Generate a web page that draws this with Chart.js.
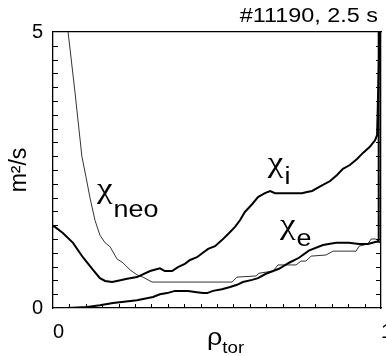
<!DOCTYPE html>
<html>
<head>
<meta charset="utf-8">
<script src="https://cdn.jsdelivr.net/npm/chart.js@4/dist/chart.umd.min.js"></script>
<style>
  html, body { margin: 0; padding: 0; background: #fff; }
</style>
</head>
<body>
<canvas id="chiChart" width="386" height="356"></canvas>
<script>
// chi_i (thick, upper)
var rhoI = [0, 0.006, 0.03, 0.061, 0.091, 0.122, 0.143, 0.159, 0.18, 0.195, 0.226, 0.256, 0.296, 0.326,
  0.341, 0.363, 0.381, 0.402, 0.418, 0.439, 0.457, 0.473, 0.494, 0.515, 0.534, 0.555, 0.570, 0.585,
  0.607, 0.625, 0.646, 0.662, 0.677, 0.707, 0.732, 0.759, 0.774, 0.790, 0.805, 0.823, 0.845, 0.866,
  0.884, 0.905, 0.927, 0.945, 0.966, 0.982, 0.988, 1.0];
var chiI = [1.48, 1.47, 1.36, 1.18, 0.92, 0.69, 0.54, 0.49, 0.47, 0.49, 0.53, 0.56, 0.67, 0.72,
  0.67, 0.67, 0.74, 0.80, 0.87, 0.92, 1.0, 1.07, 1.12, 1.23, 1.34, 1.47, 1.59, 1.74,
  1.88, 2.01, 2.08, 2.12, 2.08, 2.08, 2.08, 2.08, 2.10, 2.12, 2.17, 2.23, 2.30, 2.41,
  2.52, 2.59, 2.70, 2.81, 2.92, 3.04, 3.13, 6.0];

// chi_e (thick, lower)
var rhoE = [0, 0.043, 0.104, 0.143, 0.183, 0.256, 0.305, 0.326, 0.348, 0.372, 0.412, 0.433, 0.457, 0.470,
  0.488, 0.515, 0.540, 0.561, 0.579, 0.607, 0.625, 0.649, 0.689, 0.72, 0.75, 0.78, 0.823, 0.863,
  0.902, 0.933, 0.96, 0.985, 0.991, 0.993];
var chiE = [0, 0, 0.02, 0.05, 0.09, 0.14, 0.20, 0.25, 0.27, 0.31, 0.31, 0.29, 0.27, 0.27,
  0.31, 0.34, 0.38, 0.42, 0.47, 0.51, 0.54, 0.62, 0.71, 0.82, 0.91, 1.04, 1.14, 1.18,
  1.18, 1.16, 1.16, 1.20, 1.20, 8.0];

// chi_neo (thin)
var rhoN = [0.046, 0.067, 0.088, 0.101, 0.113, 0.128, 0.143, 0.159, 0.174, 0.195, 0.213, 0.235, 0.256,
  0.274, 0.302, 0.546, 0.561, 0.619, 0.628, 0.671, 0.686, 0.741, 0.756, 0.771, 0.787, 0.832, 0.854,
  0.924, 0.933, 0.960, 0.970, 0.985, 0.997];
var chiN = [5.0, 3.91, 2.75, 2.36, 1.99, 1.59, 1.32, 1.18, 1.11, 0.89, 0.82, 0.69, 0.60,
  0.56, 0.47, 0.47, 0.56, 0.58, 0.63, 0.67, 0.78, 0.78, 0.85, 0.85, 0.94, 0.96, 1.03,
  1.03, 1.12, 1.16, 1.25, 1.25, 1.18];

var xTickLabels = [0, 1];
var yTickLabels = [0, 5];
var titleText = '#11190, 2.5 s';

var FONT = "'Liberation Sans', Arial, sans-serif";
var CHI_FONT = "'Liberation Serif', 'Times New Roman', serif";
var STRETCH = 1.17; // the original lettering is a bit wide

function toPoints(xs, ys) {
  return xs.map(function (x, i) { return { x: x, y: ys[i] }; });
}

// curve labels, placed in data coordinates
var curveLabels = [
  { sub: 'neo', rho: 0.134, val: 2.0, dy: 19 },
  { sub: 'i', rho: 0.655, val: 2.46, dy: 12 },
  { sub: 'e', rho: 0.692, val: 1.34, dy: 12 }
];

function noPad(s) {
  s.paddingLeft = 0; s.paddingRight = 0; s.paddingTop = 0; s.paddingBottom = 0;
}

// draws text squeezed/stretched horizontally, returns drawn width
function wideText(ctx, text, x, y, font, align) {
  ctx.save();
  ctx.font = font;
  ctx.textAlign = align || 'left';
  ctx.translate(x, y);
  ctx.scale(STRETCH, 1);
  ctx.fillText(text, 0, 0);
  var w = ctx.measureText(text).width * STRETCH;
  ctx.restore();
  return w;
}

var innerTicks = {
  id: 'innerTicks',
  afterDatasetsDraw: function (chart) {
    var ctx = chart.ctx, a = chart.chartArea;
    var xs = chart.scales.x, ys = chart.scales.y;
    ctx.save();
    ctx.strokeStyle = '#000';
    ctx.lineWidth = 1;
    ctx.beginPath();
    xs.ticks.forEach(function (t, i) {
      if (i === 0 || i === xs.ticks.length - 1) return;
      var px = Math.round(xs.getPixelForValue(t.value)) + 0.5;
      ctx.moveTo(px, a.bottom);
      ctx.lineTo(px, a.bottom - 4);
    });
    ys.ticks.forEach(function (t, i) {
      if (i === 0 || i === ys.ticks.length - 1) return;
      var py = Math.round(ys.getPixelForValue(t.value)) + 0.5;
      ctx.moveTo(a.left - 1, py);
      ctx.lineTo(a.left + 5, py);
      ctx.moveTo(a.right, py);
      ctx.lineTo(a.right - 5, py);
    });
    ctx.stroke();
    ctx.restore();
  }
};

var textLabels = {
  id: 'textLabels',
  afterDraw: function (chart) {
    var ctx = chart.ctx, a = chart.chartArea;
    var xs = chart.scales.x, ys = chart.scales.y;
    ctx.save();
    ctx.fillStyle = '#000';
    ctx.textBaseline = 'alphabetic';
    curveLabels.forEach(function (l) {
      var x = xs.getPixelForValue(l.rho), y = ys.getPixelForValue(l.val);
      var w = wideText(ctx, '\u03c7', x, y, '30px ' + CHI_FONT);
      wideText(ctx, l.sub, x + w + 1, y + l.dy, '23px ' + FONT);
    });
    // axis title rho_tor
    var cx = (a.left + a.right) / 2 - 10;
    var w2 = wideText(ctx, '\u03c1', cx, a.bottom + 37, '23px ' + FONT);
    wideText(ctx, 'tor', cx + w2, a.bottom + 45, '16px ' + FONT);
    // shot title
    wideText(ctx, titleText, a.right - 3, 22, '20px ' + FONT, 'right');
    ctx.restore();
  }
};

var ctx = document.getElementById('chiChart').getContext('2d');
var chiChart = new Chart(ctx, {
  type: 'line',
  data: {
    datasets: [
      { label: 'chi_i', data: toPoints(rhoI, chiI), borderColor: '#000', borderWidth: 2 },
      { label: 'chi_e', data: toPoints(rhoE, chiE), borderColor: '#000', borderWidth: 2 },
      { label: 'chi_neo', data: toPoints(rhoN, chiN), borderColor: '#333', borderWidth: 1 }
    ]
  },
  options: {
    responsive: false,
    animation: false,
    layout: { padding: { left: 0, right: 5, top: 32, bottom: 0 } },
    elements: { point: { radius: 0 }, line: { tension: 0 } },
    scales: {
      x: {
        type: 'linear', position: 'bottom', min: 0, max: 1,
        grid: { display: false, drawTicks: false },
        border: { display: true, color: '#000', width: 1.3 },
        ticks: {
          stepSize: 0.05, autoSkip: false, maxRotation: 0, align: 'start', padding: 12,
          color: '#000', font: { family: FONT, size: 20 },
          callback: function (v) { return xTickLabels.indexOf(v) >= 0 ? String(v) : ''; }
        },
        afterFit: function (s) { s.height = 48; noPad(s); }
      },
      x2: {
        type: 'linear', position: 'top', min: 0, max: 1,
        grid: { display: false, drawTicks: false },
        border: { display: true, color: '#000', width: 1.3 },
        ticks: { display: false },
        afterFit: function (s) { s.height = 0; noPad(s); }
      },
      y: {
        type: 'linear', position: 'left', min: 0, max: 5,
        grid: { display: false, drawTicks: false },
        border: { display: true, color: '#000', width: 1.3 },
        title: { display: true, text: 'm\u00b2/s', color: '#000', font: { family: FONT, size: 23 }, padding: { top: 6, bottom: 0 } },
        ticks: {
          stepSize: 0.25, autoSkip: false, padding: 10,
          color: '#000', font: { family: FONT, size: 20 },
          callback: function (v) { return yTickLabels.indexOf(v) >= 0 ? String(v) : ''; }
        },
        afterFit: function (s) { s.width = 53; noPad(s); }
      },
      y2: {
        type: 'linear', position: 'right', min: 0, max: 5,
        grid: { display: false, drawTicks: false },
        border: { display: true, color: '#000', width: 1.3 },
        ticks: { display: false },
        afterFit: function (s) { s.width = 0; noPad(s); }
      }
    },
    plugins: {
      legend: { display: false },
      tooltip: { enabled: false },
      title: { display: false }
    }
  },
  plugins: [innerTicks, textLabels]
});
</script>
</body>
</html>
